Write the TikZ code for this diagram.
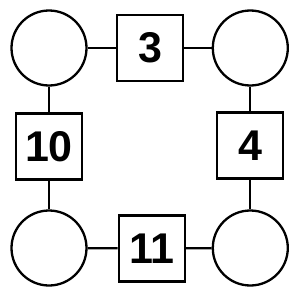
\documentclass[tikz,border=0pt]{standalone}
\usepackage{fontspec}
\setmainfont{Liberation Sans}
\begin{document}
\begin{tikzpicture}[x=1pt,y=-1pt,
  ring/.style={circle,draw,line width=2.3pt,minimum size=75pt,inner sep=0pt},
  box/.style={rectangle,draw,line width=2.3pt,minimum size=66pt,inner sep=0pt,font=\fontsize{43}{43}\selectfont\bfseries},
  link/.style={line width=2.3pt}]
\useasboundingbox (0,0) rectangle (300,300);
\node[ring] (c1) at (49,48) {};
\node[ring] (c2) at (250.3,48) {};
\node[ring] (c3) at (49,248) {};
\node[ring] (c4) at (250.3,248) {};
\node[box] (b1) at (150,48) {3};
\node[box] (b2) at (49,146.5) {10};
\node[box] (b3) at (250.3,145.5) {4};
\node[box] (b4) at (151.8,248.5) {11};
\draw[link] (c1) -- (b1);
\draw[link] (b1) -- (c2);
\draw[link] (c1) -- (b2);
\draw[link] (b2) -- (c3);
\draw[link] (c2) -- (b3);
\draw[link] (b3) -- (c4);
\draw[link] (c3) -- (b4);
\draw[link] (b4) -- (c4);
\end{tikzpicture}
\end{document}
